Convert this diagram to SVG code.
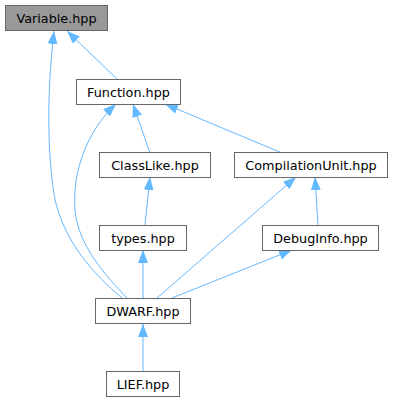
<svg xmlns="http://www.w3.org/2000/svg" width="396" height="403" viewBox="0 0 396 403">
  <style>
    .node rect { fill: #ffffff; stroke: #666666; stroke-width: 1; }
    .node.current rect { fill: #999999; }
    .node text { font-family: "DejaVu Sans", "Liberation Sans", sans-serif; font-size: 12.8px; fill: #000000; text-anchor: middle; }
    .edge { fill: none; stroke: #63b8ff; stroke-width: 1; marker-end: url(#arrow); }
  </style>
  <defs>
    <marker id="arrow" markerUnits="userSpaceOnUse" markerWidth="13" markerHeight="10" refX="13" refY="5" orient="auto">
      <path d="M0,0 L13,5 L0,10 z" fill="#63b8ff"/>
    </marker>
  </defs>

  <g id="edges">
    <path class="edge" d="M117,79 L67,31"/>
    <path class="edge" d="M122,298 C95,275 66,245 55,200 C48,160 46,100 54,31"/>
    <path class="edge" d="M127,298 C105,275 78,245 75,210 C72,170 88,130 116,104"/>
    <path class="edge" d="M150,153 L133,104"/>
    <path class="edge" d="M282,153 L165,104"/>
    <path class="edge" d="M145,225 L150,177"/>
    <path class="edge" d="M157,298 L296,177"/>
    <path class="edge" d="M318,225 L315,177"/>
    <path class="edge" d="M143,298 L143,250"/>
    <path class="edge" d="M172,298 L292,250"/>
    <path class="edge" d="M143,372 L143,324"/>
  </g>

  <g id="node-variable" class="node current">
    <rect x="5.5" y="5.5" width="102" height="25"/>
    <text x="56.5" y="22.5">Variable.hpp</text>
  </g>
  <g id="node-function" class="node">
    <rect x="76.5" y="79.5" width="104" height="25"/>
    <text x="128.5" y="96.5">Function.hpp</text>
  </g>
  <g id="node-classlike" class="node">
    <rect x="99.5" y="152.5" width="111" height="25"/>
    <text x="155" y="169.5">ClassLike.hpp</text>
  </g>
  <g id="node-compilationunit" class="node">
    <rect x="234.5" y="152.5" width="153" height="25"/>
    <text x="311" y="169.5">CompilationUnit.hpp</text>
  </g>
  <g id="node-types" class="node">
    <rect x="99.5" y="225.5" width="87" height="25"/>
    <text x="143" y="242.5">types.hpp</text>
  </g>
  <g id="node-debuginfo" class="node">
    <rect x="262.5" y="225.5" width="116" height="25"/>
    <text x="320.5" y="242.5">DebugInfo.hpp</text>
  </g>
  <g id="node-dwarf" class="node">
    <rect x="95.5" y="298.5" width="95" height="25"/>
    <text x="143" y="315.5">DWARF.hpp</text>
  </g>
  <g id="node-lief" class="node">
    <rect x="106.5" y="371.5" width="73" height="25"/>
    <text x="143" y="388.5">LIEF.hpp</text>
  </g>
</svg>
